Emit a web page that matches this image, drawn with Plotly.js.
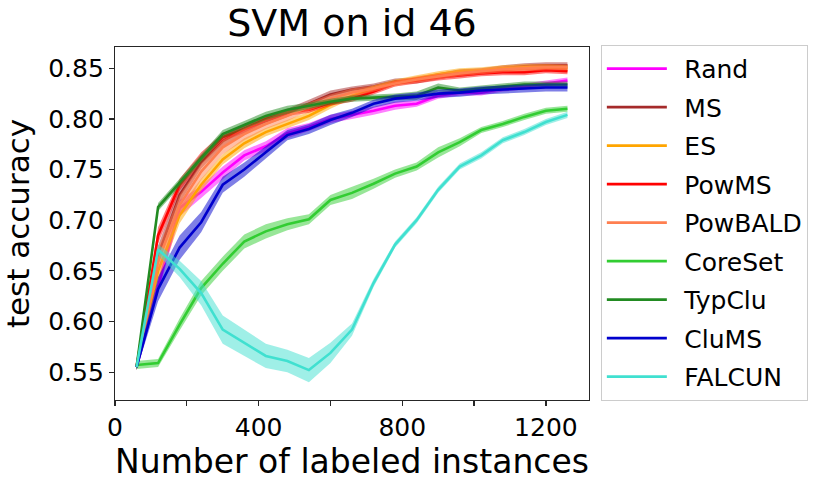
<!DOCTYPE html>
<html>
<head>
<meta charset="utf-8">
<script src="https://cdn.plot.ly/plotly-3.0.1.min.js"></script>
<style>
  html, body { margin: 0; padding: 0; background: #fff; }
  #graph { width: 831px; height: 482px; }
</style>
</head>
<body>
<div id="graph"></div>
<script>
// number of labeled instances
const steps = [60, 120, 180, 240, 300, 360, 420, 480, 540, 600, 660, 720, 780, 840, 900, 960, 1020, 1080, 1140, 1200, 1260];

// mean test accuracy per method
const rand    = [0.555, 0.635, 0.712, 0.728, 0.747, 0.764, 0.773, 0.786, 0.792, 0.800, 0.804, 0.808, 0.813, 0.815, 0.823, 0.826, 0.826, 0.830, 0.832, 0.835, 0.838];
const ms      = [0.555, 0.665, 0.725, 0.757, 0.778, 0.790, 0.798, 0.806, 0.815, 0.824, 0.829, 0.832, 0.837, 0.838, 0.842, 0.846, 0.847, 0.850, 0.852, 0.853, 0.853];
const es      = [0.555, 0.650, 0.705, 0.735, 0.760, 0.776, 0.787, 0.795, 0.803, 0.814, 0.823, 0.830, 0.836, 0.840, 0.844, 0.847, 0.848, 0.850, 0.851, 0.851, 0.850];
const powms   = [0.555, 0.685, 0.735, 0.762, 0.782, 0.790, 0.800, 0.806, 0.809, 0.816, 0.820, 0.827, 0.835, 0.838, 0.841, 0.843, 0.845, 0.846, 0.846, 0.848, 0.847];
const powbald = [0.555, 0.660, 0.715, 0.748, 0.772, 0.785, 0.795, 0.803, 0.812, 0.820, 0.826, 0.830, 0.835, 0.839, 0.842, 0.845, 0.847, 0.849, 0.850, 0.851, 0.851];
const coreset = [0.557, 0.559, 0.597, 0.633, 0.657, 0.679, 0.689, 0.696, 0.701, 0.720, 0.727, 0.736, 0.746, 0.753, 0.767, 0.777, 0.789, 0.795, 0.802, 0.808, 0.810];
const typclu  = [0.555, 0.713, 0.737, 0.761, 0.785, 0.794, 0.803, 0.809, 0.813, 0.817, 0.820, 0.821, 0.822, 0.823, 0.831, 0.828, 0.830, 0.832, 0.834, 0.834, 0.834];
const clums   = [0.555, 0.632, 0.673, 0.698, 0.735, 0.750, 0.767, 0.784, 0.790, 0.799, 0.806, 0.815, 0.820, 0.822, 0.825, 0.826, 0.828, 0.829, 0.830, 0.831, 0.831];
const falcun  = [0.555, 0.671, 0.652, 0.628, 0.592, 0.579, 0.566, 0.561, 0.552, 0.569, 0.592, 0.638, 0.676, 0.700, 0.730, 0.753, 0.764, 0.779, 0.787, 0.797, 0.804];

// half width of the shaded band (std)
const randStd    = [0.003, 0.008, 0.008, 0.006, 0.006, 0.005, 0.005, 0.005, 0.004, 0.004, 0.004, 0.004, 0.004, 0.003, 0.003, 0.003, 0.003, 0.003, 0.003, 0.003, 0.003];
const msStd      = [0.003, 0.010, 0.008, 0.006, 0.005, 0.005, 0.004, 0.004, 0.004, 0.004, 0.003, 0.003, 0.003, 0.003, 0.003, 0.003, 0.003, 0.003, 0.003, 0.003, 0.003];
const esStd      = [0.003, 0.010, 0.008, 0.006, 0.005, 0.005, 0.004, 0.004, 0.004, 0.004, 0.003, 0.003, 0.003, 0.003, 0.003, 0.003, 0.003, 0.003, 0.003, 0.003, 0.003];
const powmsStd   = [0.003, 0.008, 0.006, 0.005, 0.004, 0.004, 0.003, 0.003, 0.003, 0.003, 0.003, 0.003, 0.003, 0.003, 0.003, 0.003, 0.003, 0.003, 0.003, 0.003, 0.003];
const powbaldStd = [0.003, 0.012, 0.010, 0.008, 0.007, 0.006, 0.005, 0.005, 0.004, 0.004, 0.004, 0.003, 0.003, 0.003, 0.003, 0.003, 0.003, 0.003, 0.003, 0.003, 0.003];
const coresetStd = [0.004, 0.004, 0.006, 0.007, 0.007, 0.007, 0.007, 0.006, 0.005, 0.005, 0.006, 0.005, 0.004, 0.004, 0.005, 0.004, 0.003, 0.003, 0.003, 0.003, 0.003];
const typcluStd  = [0.003, 0.004, 0.004, 0.004, 0.004, 0.004, 0.004, 0.004, 0.003, 0.003, 0.003, 0.003, 0.003, 0.004, 0.004, 0.003, 0.003, 0.003, 0.003, 0.003, 0.003];
const clumsStd   = [0.003, 0.012, 0.012, 0.010, 0.008, 0.007, 0.006, 0.005, 0.005, 0.005, 0.004, 0.004, 0.004, 0.004, 0.004, 0.004, 0.004, 0.004, 0.004, 0.004, 0.004];
const falcunStd  = [0.003, 0.005, 0.008, 0.012, 0.014, 0.013, 0.012, 0.011, 0.012, 0.010, 0.006, 0.004, 0.003, 0.003, 0.003, 0.003, 0.003, 0.003, 0.003, 0.003, 0.003];

const xTickVals = [0, 200, 400, 600, 800, 1000, 1200];
const xTickText = ['0', '', '400', '', '800', '', '1200'];
const yTickVals = [0.55, 0.60, 0.65, 0.70, 0.75, 0.80, 0.85];

const methods = [
    { name: 'Rand',    y: rand,    s: randStd,    color: '#ff00ff' },
    { name: 'MS',      y: ms,      s: msStd,      color: '#a52a2a' },
    { name: 'ES',      y: es,      s: esStd,      color: '#ffa500' },
    { name: 'PowMS',   y: powms,   s: powmsStd,   color: '#ff0000' },
    { name: 'PowBALD', y: powbald, s: powbaldStd, color: '#ff7f50' },
    { name: 'CoreSet', y: coreset, s: coresetStd, color: '#32cd32' },
    { name: 'TypClu',  y: typclu,  s: typcluStd,  color: '#228b22' },
    { name: 'CluMS',   y: clums,   s: clumsStd,   color: '#0000cd' },
    { name: 'FALCUN',  y: falcun,  s: falcunStd,  color: '#40e0d0' },
];

function fade(hex, a) {
    const r = parseInt(hex.slice(1, 3), 16);
    const g = parseInt(hex.slice(3, 5), 16);
    const b = parseInt(hex.slice(5, 7), 16);
    return `rgba(${r},${g},${b},${a})`;
}

const FONT = 'DejaVu Sans, sans-serif';
var traces = [];
methods.forEach(function (m) {
    // band: upper edge, then lower edge filled up to it
    traces.push({
        x: steps, y: m.y.map((v, i) => v + m.s[i]),
        mode: 'lines', line: { width: 0, color: m.color },
        showlegend: false, hoverinfo: 'skip',
    });
    traces.push({
        x: steps, y: m.y.map((v, i) => v - m.s[i]),
        mode: 'lines', line: { width: 0, color: m.color },
        fill: 'tonexty', fillcolor: fade(m.color, 0.5),
        showlegend: false, hoverinfo: 'skip',
    });
    // en space pushes the label a bit away from the line sample
    traces.push({
        name: '\u2002' + m.name, x: steps, y: m.y,
        mode: 'lines', line: { width: 2.6, color: m.color },
        legendgroup: m.name,
    });
});

const axisStyle = {
    showgrid: false, zeroline: false,
    showline: true, mirror: true, linecolor: '#262626', linewidth: 1.2,
    ticks: 'outside', ticklen: 5, tickwidth: 1.2, tickcolor: '#262626',
    tickfont: { family: FONT, size: 25, color: '#000' },
};

const layout = {
    width: 831, height: 482,
    margin: { l: 115, r: 242, t: 47, b: 82 },
    paper_bgcolor: '#fff', plot_bgcolor: '#fff',
    title: {
        text: 'SVM on id 46',
        font: { family: FONT, size: 38, color: '#000' },
        x: 0.5, xref: 'paper', y: 0.952, yref: 'container', yanchor: 'middle',
    },
    xaxis: Object.assign({}, axisStyle, {
        range: [0, 1320],
        tickmode: 'array', tickvals: xTickVals, ticktext: xTickText,
        title: { text: 'Number of labeled instances', font: { family: FONT, size: 33, color: '#000' }, standoff: 6 },
    }),
    yaxis: Object.assign({}, axisStyle, {
        range: [0.5225, 0.871],
        tickmode: 'array', tickvals: yTickVals, tickformat: '.2f',
        title: { text: 'test accuracy', font: { family: FONT, size: 31, color: '#000' }, standoff: 10 },
    }),
    showlegend: true,
    legend: {
        x: 1.025, xanchor: 'left', y: 1.006, yanchor: 'top',
        font: { family: FONT, size: 25, color: '#000' },
        bgcolor: '#fff', bordercolor: '#cccccc', borderwidth: 1,
        itemwidth: 60, tracegroupgap: 3, maxheight: 470,
    },
};

Plotly.newPlot('graph', traces, layout, { displayModeBar: false, staticPlot: true });
</script>
</body>
</html>
